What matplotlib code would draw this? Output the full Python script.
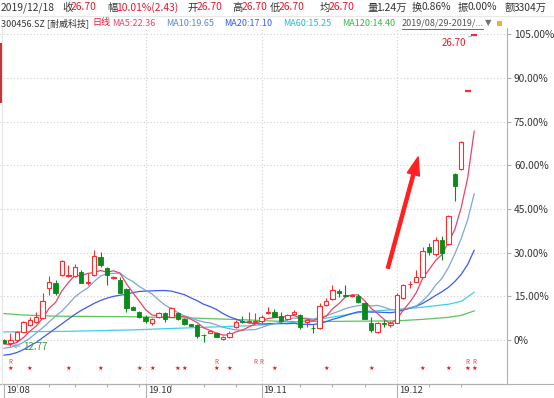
import matplotlib
matplotlib.use("Agg")
import matplotlib.pyplot as plt
import matplotlib.transforms as mtransforms
from matplotlib.lines import Line2D
from matplotlib.patches import Rectangle

plt.rcParams['font.family'] = ['Noto Sans CJK SC', 'DejaVu Sans']

# 日K数据：相对基准价的涨幅(%)
opens = [0.0, -1.0, 0.0, 2.9, 5.2, 6.3, 7.5, 17.8, 19.5, 22.3,
         22.0, 22.0, 23.5, 19.6, 22.3, 28.6, 24.6, 21.2, 20.6, 17.4,
         11.5, 9.7, 8.0, 5.9, 7.8, 9.2, 8.0, 9.4, 7.4, 5.5,
         5.2, 1.9, 2.5, 2.5, 0.3, 1.1, 4.6, 6.5, 6.1, 6.2,
         6.6, 9.2, 9.7, 8.2, 7.4, 9.0, 8.6, 6.3, 4.2, 4.0,
         12.0, 14.0, 16.8, 15.5, 15.0, 15.1, 12.6, 5.7, 2.9, 5.8,
         5.2, 5.9, 14.3, 19.2, 20.0, 21.8, 32.1, 29.6, 34.4, 33.0,
         57.0, 58.6, 85.4, 104.8]
highs = [0.3, 2.3, 3.2, 6.6, 8.0, 9.5, 16.0, 22.0, 20.6, 27.6,
         25.8, 26.0, 24.0, 23.0, 30.9, 30.4, 25.2, 22.0, 21.8, 17.8,
         11.8, 10.0, 8.5, 7.6, 9.5, 9.8, 11.2, 9.8, 7.6, 5.6,
         5.5, 2.2, 3.3, 2.8, 1.3, 3.0, 7.0, 8.2, 9.7, 9.2,
         8.5, 11.4, 10.5, 9.7, 9.0, 10.3, 9.0, 7.4, 5.2, 12.6,
         14.5, 18.9, 17.7, 18.9, 15.8, 15.8, 13.0, 8.0, 6.3, 6.9,
         6.5, 16.0, 19.2, 20.4, 24.0, 31.9, 33.4, 35.5, 35.7, 42.8,
         57.3, 68.4, 85.4, 104.8]
lows = [-1.4, -1.9, -0.5, 2.6, 4.8, 6.0, 7.2, 15.5, 15.5, 22.0,
        21.8, 21.8, 19.5, 19.0, 22.0, 25.2, 18.9, 21.0, 16.0, 9.7,
        10.3, 7.5, 5.7, 5.0, 7.5, 6.3, 7.8, 7.0, 5.2, 4.7,
        0.6, -0.6, 2.3, 0.9, 0.1, 0.6, 4.3, 5.9, 5.9, 5.9,
        6.0, 9.0, 7.8, 6.3, 7.0, 8.6, 3.7, 4.6, 2.3, 3.7,
        11.7, 13.7, 14.9, 14.9, 14.7, 12.6, 7.1, 2.9, 2.5, 4.6,
        4.5, 5.7, 14.0, 17.8, 19.8, 21.6, 29.3, 29.0, 27.4, 32.8,
        47.8, 58.4, 85.4, 104.8]
closes = [-1.1, 0.0, 2.9, 6.3, 6.9, 8.0, 13.5, 20.1, 16.0, 27.3,
          22.3, 25.2, 19.7, 20.0, 28.9, 25.8, 22.3, 21.8, 16.3, 10.9,
          10.3, 7.8, 6.6, 7.4, 9.2, 7.1, 10.9, 7.4, 5.5, 4.9,
          1.5, 1.6, 3.1, 1.1, 1.1, 2.3, 6.3, 6.2, 6.4, 6.5,
          8.0, 9.7, 8.0, 6.6, 8.6, 9.5, 4.6, 6.9, 4.0, 11.7,
          13.5, 17.2, 16.3, 15.2, 15.4, 13.2, 7.4, 3.4, 6.0, 5.6,
          5.7, 15.5, 18.9, 19.4, 21.7, 30.7, 30.4, 34.4, 29.8, 42.6,
          53.0, 68.2, 85.4, 104.8]

ma5 = [-1.3, -1.6, -0.8, 0.8, 3.0, 4.8, 7.5, 10.9, 12.9, 16.9,
       19.8, 22.2, 22.1, 22.9, 23.2, 23.9, 23.3, 23.8, 23.0, 19.4,
       16.3, 13.4, 10.4, 8.6, 8.3, 7.6, 8.2, 8.4, 8.0, 7.2,
       6.0, 4.2, 3.3, 2.4, 1.7, 1.8, 2.8, 3.4, 4.5, 5.5,
       6.7, 7.4, 7.7, 7.8, 8.2, 8.5, 7.5, 7.2, 6.7, 7.3,
       8.1, 10.7, 12.5, 14.8, 15.5, 15.5, 13.5, 10.9, 9.1, 7.1,
       5.6, 7.2, 10.3, 13.0, 16.2, 21.2, 24.2, 27.3, 29.4, 33.6,
       38.0, 45.6, 55.8, 71.7]
ma10 = [-2.8, -2.5, -1.9, -0.8, 0.6, 2.4, 4.2, 6.2, 8.2, 10.0,
        12.3, 14.8, 16.5, 17.9, 20.1, 22.0, 22.8, 22.9, 23.0, 21.3,
        20.1, 18.4, 17.1, 15.8, 13.8, 12.0, 10.8, 9.4, 8.3, 7.7,
        6.8, 6.2, 5.9, 5.2, 4.4, 3.9, 3.5, 3.4, 3.5, 3.6,
        4.3, 5.1, 5.6, 6.1, 6.9, 7.6, 7.4, 7.5, 7.2, 7.8,
        8.3, 9.1, 9.9, 10.8, 11.4, 11.8, 12.1, 11.7, 11.9, 11.3,
        10.5, 10.4, 10.6, 11.1, 11.7, 13.4, 15.7, 18.8, 21.2, 24.9,
        29.6, 34.9, 41.4, 50.2]
ma20 = [-5.2, -4.9, -4.3, -3.3, -2.0, -0.8, 0.8, 2.4, 4.0, 5.6,
        7.2, 8.8, 10.2, 11.4, 12.6, 13.6, 14.4, 15.0, 15.4, 15.7,
        16.3, 16.7, 16.8, 16.9, 17.0, 17.0, 16.8, 16.2, 15.6, 14.5,
        13.5, 12.3, 11.5, 10.5, 9.1, 8.0, 7.2, 6.4, 5.9, 5.7,
        5.5, 5.6, 5.7, 5.7, 5.6, 5.8, 5.4, 5.4, 5.3, 5.7,
        6.3, 7.1, 7.7, 8.4, 9.1, 9.7, 9.7, 9.6, 9.6, 9.5,
        9.4, 9.7, 10.3, 10.9, 11.6, 12.6, 13.9, 15.3, 16.6, 18.1,
        20.1, 22.6, 26.0, 30.8]
ma60_at = [0, 10, 20, 30, 38, 44, 50, 56, 61, 65, 69, 71, 73]
ma60 = [2.8, 3.0, 3.5, 4.3, 4.9, 5.8, 7.5, 9.8, 10.5, 11.3, 12.3, 13.3, 16.4]
ma120_at = [0, 3, 8, 20, 30, 38, 44, 50, 56, 61, 65, 69, 71, 73]
ma120 = [9.1, 8.6, 8.2, 8.0, 7.5, 6.9, 6.3, 6.4, 6.5, 6.6, 7.1, 7.8, 8.5, 10.0]

month_labels = ["19.08", "19.10", "19.11", "19.12"]
month_at = [0, 22, 40, 61]
week_at = [2, 7, 11, 16, 21, 26, 31, 36, 41, 46, 51, 56, 66, 71]
star_at = [1, 4, 10, 15, 21, 23, 27, 28, 33, 35, 42, 50, 57, 65, 69, 72, 73]
r_at = [1, 33, 39, 40, 72, 73]
y_ticks = [0, 15, 30, 45, 60, 75, 90, 105]

UP = "#ff2a2a"
DOWN = "#0a8a1a"
TXT = "#333333"
RED = "#e8162d"
C5, C10, C20, C60, C120 = "#e8456a", "#7ea6d6", "#3a5cf0", "#3fd0ea", "#5cc45c"

W, H = 554, 398
fig = plt.figure(figsize=(W / 100, H / 100), dpi=100)
ax = fig.add_axes([0, 14 / H, 507 / W, 356 / H])
ax.set_xlim(-0.62, 78.1)
ax.set_ylim(-15.1, 107.2)

# 网格
for y in y_ticks:
    ax.axhline(y, color="#d0d0d0", lw=0.8, ls=(0, (1, 2)), zorder=0)
for x in month_at[1:]:
    ax.axvline(x, color="#d0d0d0", lw=0.8, ls=(0, (1, 2)), zorder=0)

# 均线
idx = list(range(len(closes)))
ax.plot(ma120_at, ma120, color=C120, lw=0.9, zorder=2)
ax.plot(ma60_at, ma60, color=C60, lw=0.9, zorder=2)
ax.plot(idx, ma20, color=C20, lw=0.9, zorder=2)
ax.plot(idx, ma10, color=C10, lw=0.9, zorder=2)
ax.plot(idx, ma5, color=C5, lw=0.9, zorder=2)

# K线
bw = 0.68
for i in idx:
    o, h, l, c = opens[i], highs[i], lows[i], closes[i]
    if h == l:
        ax.hlines(c, i - bw / 2 - 0.1, i + bw / 2 + 0.1, color=UP, lw=1.6, zorder=4)
        continue
    col = UP if c >= o else DOWN
    ax.vlines(i, l, h, color=col, lw=0.8, zorder=3)
    if c >= o:
        ax.add_patch(Rectangle((i - bw / 2, o), bw, max(c - o, 0.15),
                               facecolor="white", edgecolor=UP, lw=0.8, zorder=4))
    else:
        ax.add_patch(Rectangle((i - bw / 2, c), bw, o - c,
                               facecolor=DOWN, edgecolor=DOWN, lw=0.6, zorder=4))

# 最低/最高标注
ax.annotate("12.77", xy=(1, lows[1]), xytext=(2.9, -2.5), color="#3c9a3c",
            fontsize=7, va="center", ha="left",
            arrowprops=dict(arrowstyle="->", color="#8aaad0", lw=0.7,
                            shrinkA=0, shrinkB=1))
ax.annotate("26.70", xy=(73, highs[73]), xytext=(69.8, 102.2), color=RED,
            fontsize=7, va="center", ha="center",
            arrowprops=dict(arrowstyle="-", color="#8aaad0", lw=0.7,
                            shrinkA=0, shrinkB=1))

# 红色箭头
ax.annotate("", xy=(64.3, 62.9), xytext=(59.6, 24.7),
            arrowprops=dict(arrowstyle="simple,head_length=1.3,head_width=0.9,tail_width=0.22",
                            color="#ff2020", mutation_scale=10, shrinkA=0, shrinkB=0),
            zorder=6)

# 信号标记
trans = mtransforms.blended_transform_factory(ax.transData, ax.transAxes)
for x in star_at:
    ax.text(x, 0.043, "★", transform=trans, color="#e81010", fontsize=4.5,
            ha="center", va="center", family="DejaVu Sans")
for x in r_at:
    ax.text(x, 0.063, "R", transform=trans, color="#e84040", fontsize=4.5,
            ha="center", va="center")

# 坐标轴
for s in ["top", "left"]:
    ax.spines[s].set_visible(False)
ax.spines["right"].set_color("#b0b0b0")
ax.spines["bottom"].set_color("#b0b0b0")
ax.spines["right"].set_linewidth(0.8)
ax.spines["bottom"].set_linewidth(0.8)
ax.yaxis.tick_right()
ax.set_yticks(y_ticks)
ax.set_yticklabels(["0%"] + [f"{v:.2f}%" for v in y_ticks[1:]])
ax.tick_params(axis="y", length=3, width=0.8, color="#b0b0b0", pad=2,
               labelsize=7.3, labelcolor=TXT)
ax.set_xticks(month_at)
ax.set_xticks(week_at, minor=True)
ax.set_xticklabels([])
ax.tick_params(axis="x", which="major", length=10, width=0.8, color="#b0b0b0")
ax.tick_params(axis="x", which="minor", length=2.5, width=0.8, color="#b0b0b0")
fig.add_artist(Line2D([0, 1], [14 / H, 14 / H], color="#b0b0b0", lw=0.8))
fig.add_artist(Line2D([1.5 / W, 1.5 / W], [14 / H, 1 - 28 / H], color="#e4e4e4", lw=0.8))
fig.add_artist(Rectangle((0, 1 - 103 / H), 1.6 / W, 60 / H,
                         facecolor="#c83232", edgecolor="none"))


def ftext(x, y, s, **kw):
    fig.text(x / W, 1 - y / H, s, va="center", ha="left", **kw)


# 月份标签
for x, lab in zip(month_at, month_labels):
    px = ax.transData.transform((x, 0))[0]
    ftext(px + 2, 390.5, lab, fontsize=6.8, color=TXT)

# 顶部信息栏
row1 = [(1, "2019/12/18", TXT), (62, "收", TXT), (71, "26.70", RED),
        (107, "幅", TXT), (116, "10.01%(2.43)", RED), (187, "开", TXT),
        (197, "26.70", RED), (232, "高", TXT), (242, "26.70", RED),
        (270, "低", TXT), (279, "26.70", RED), (320, "均", TXT),
        (329, "26.70", RED), (367, "量", TXT), (376, "1.24万", TXT),
        (412, "换", TXT), (421, "0.86%", TXT), (458, "振", TXT),
        (467, "0.00%", TXT), (505, "额", TXT), (514, "3304万", TXT)]
for x, s, c in row1:
    ftext(x, 7.5, s, color=c, fontsize=7.4)
fig.add_artist(Line2D([0, 1], [1 - 16 / H, 1 - 16 / H], color="#e8e8e8", lw=0.8))

row2 = [(1, "300456.SZ [耐威科技]", TXT), (92, "日线", RED),
        (112, "MA5:22.36", C5), (166, "MA10:19.65", "#5a8ac8"),
        (224, "MA20:17.10", C20), (283, "MA60:15.25", "#22bbdd"),
        (342, "MA120:14.40", "#33bb44"), (402, "2019/08/29-2019/...", "#555555")]
for x, s, c in row2:
    ftext(x, 23, s, color=c, fontsize=6.5)
fig.add_artist(Line2D([402 / W, 483 / W], [1 - 28.5 / H, 1 - 28.5 / H],
                      color="#555555", lw=0.6))
ftext(485, 23, "▼", color="#707070", fontsize=6, family="DejaVu Sans")
fig.add_artist(Rectangle((497 / W, 1 - 26 / H), 5 / W, 5 / H,
                         facecolor="#f0b030", edgecolor="none"))

fig.savefig("out.png", dpi=100)
